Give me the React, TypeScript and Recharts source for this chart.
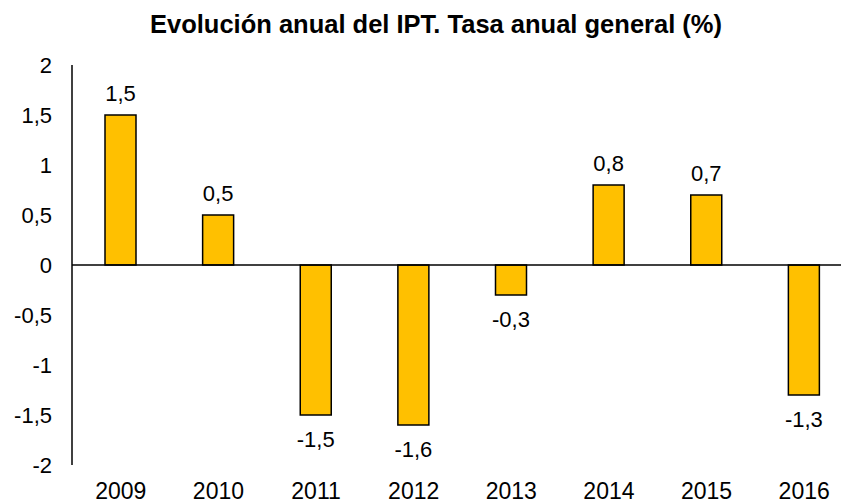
import React from 'react';
import { BarChart, Bar, XAxis, YAxis, ReferenceLine, LabelList } from 'recharts';

const years = ['2009', '2010', '2011', '2012', '2013', '2014', '2015', '2016'];
const tasaAnual = [1.5, 0.5, -1.5, -1.6, -0.3, 0.8, 0.7, -1.3];
const yTicks = [-2, -1.5, -1, -0.5, 0, 0.5, 1, 1.5, 2];

const chartData = years.map((year, i) => ({ year, tasa: tasaAnual[i] }));

const FONT = '"Liberation Sans", Arial, sans-serif';
const fmt = (v: number) => String(v).replace('.', ',');

const YTick = (props: any) => {
  const { x, y, payload } = props;
  return (
    <text x={x} y={y} dy={8} textAnchor="end" fontSize={22} fontFamily={FONT} fill="#000">
      {fmt(payload.value)}
    </text>
  );
};

const XTick = (props: any) => {
  const { x, y, payload } = props;
  return (
    <text x={x} y={y} dy={34} textAnchor="middle" fontSize={23} fontFamily={FONT} fill="#000">
      {payload.value}
    </text>
  );
};

const ValueLabel = (props: any) => {
  const { x, y, width, height, value } = props;
  const top = Math.min(y, y + height);
  const bottom = Math.max(y, y + height);
  const ty = value >= 0 ? top - 14 : bottom + 32;
  return (
    <text x={x + width / 2} y={ty} textAnchor="middle" fontSize={22} fontFamily={FONT} fill="#000">
      {fmt(value)}
    </text>
  );
};

export default function App() {
  return (
    <div style={{ position: 'absolute', left: 0, top: 0, width: 841, height: 503, overflow: 'hidden', background: '#fff' }}>
      <svg width={841} height={50} style={{ position: 'absolute', left: 0, top: 0 }}>
        <text x={436} y={33} textAnchor="middle" fontSize={25.5} fontWeight="bold" fontFamily={FONT} fill="#000">
          Evolución anual del IPT. Tasa anual general (%)
        </text>
      </svg>
      <div style={{ position: 'absolute', left: 0, top: 0 }}>
        <BarChart width={853} height={503} data={chartData} margin={{ top: 65, right: 0, left: 0, bottom: 0 }}>
          <XAxis
            dataKey="year"
            axisLine={false}
            tickLine={false}
            tickSize={0}
            tickMargin={0}
            height={38}
            tick={<XTick />}
            interval={0}
          />
          <YAxis
            width={72}
            domain={[-2, 2]}
            ticks={yTicks}
            tickLine={false}
            axisLine={{ stroke: '#000', strokeWidth: 1.5 }}
            tick={<YTick />}
            tickSize={0}
            tickMargin={20}
          />
          <ReferenceLine y={0} stroke="#000" strokeWidth={1.5} />
          <Bar dataKey="tasa" fill="#FFC000" stroke="#000" strokeWidth={1.5} barSize={31} isAnimationActive={false}>
            <LabelList dataKey="tasa" content={<ValueLabel />} />
          </Bar>
        </BarChart>
      </div>
    </div>
  );
}
